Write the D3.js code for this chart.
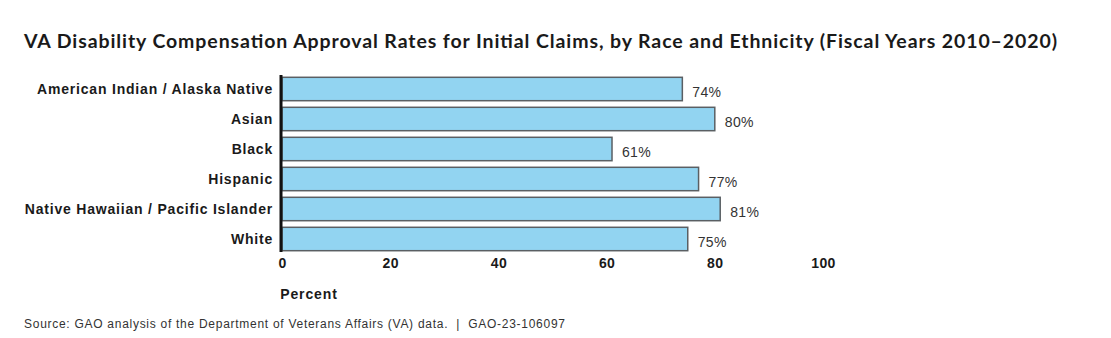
<!DOCTYPE html>
<html><head><meta charset="utf-8">
<script src="https://cdn.jsdelivr.net/npm/d3@7"></script>
<style>
html,body{margin:0;padding:0;background:#fff;}
svg{display:block;}
</style></head>
<body>
<svg id="chart" width="1111" height="338"></svg>
<script>
const categories = ["American Indian / Alaska Native","Asian","Black","Hispanic","Native Hawaiian / Pacific Islander","White"];
const values = [74,80,61,77,81,75];
const tickValues = [0,20,40,60,80,100];
const title = "VA Disability Compensation Approval Rates for Initial Claims, by Race and Ethnicity (Fiscal Years 2010–2020)";
const xTitle = "Percent";
const source = "Source: GAO analysis of the Department of Veterans Affairs (VA) data.  |  GAO-23-106097";

const svg = d3.select("#chart");
const x = d3.scaleLinear().domain([0,100]).range([282,823]);
const y = d3.scaleBand().domain(categories).range([74,254]).paddingInner(0.22).paddingOuter(0.11);
const sans = "'Liberation Sans', Arial, sans-serif";

svg.append("text").attr("x",24).attr("y",48)
  .attr("font-family","Lato, 'Open Sans', sans-serif").attr("font-weight",700)
  .attr("font-size",19.5).attr("fill","#1a1a1a")
  .attr("textLength",1033).attr("lengthAdjust","spacing").text(title);

svg.selectAll("rect.bar").data(values).join("rect").attr("class","bar")
  .attr("x",x(0)).attr("y",(d,i)=>y(categories[i]))
  .attr("width",d=>x(d)-x(0)).attr("height",y.bandwidth())
  .attr("fill","#92d4f1").attr("stroke","#5a5f63").attr("stroke-width",1.5);

svg.selectAll("text.val").data(values).join("text").attr("class","val")
  .attr("x",d=>x(d)+10).attr("y",(d,i)=>y(categories[i])+y.bandwidth()/2+7.5)
  .attr("font-family",sans).attr("font-size",14).attr("letter-spacing",0.3)
  .attr("fill","#333").text(d=>d+"%");

// y axis
const yAxis = d3.axisLeft(y).tickSize(0).tickPadding(9);
const gy = svg.append("g").attr("transform",`translate(${x(0)},0)`).call(yAxis);
gy.select(".domain").remove();
gy.selectAll("text").attr("font-family",sans).attr("dy","0.36em")
  .attr("font-weight",700).attr("font-size",14).attr("letter-spacing",0.8).attr("fill","#1a1a1a");
svg.append("line").attr("x1",x(0)-1).attr("x2",x(0)-1).attr("y1",75).attr("y2",252)
  .attr("stroke","#111").attr("stroke-width",3);

// x axis
const xAxis = d3.axisBottom(x).tickValues(tickValues).tickSize(0).tickPadding(0);
const gx = svg.append("g").attr("transform","translate(0,258)").call(xAxis);
gx.select(".domain").remove();
gx.selectAll("text").attr("font-family",sans)
  .attr("font-weight",700).attr("font-size",14).attr("letter-spacing",0.4).attr("fill","#1a1a1a");

svg.append("text").attr("x",309).attr("y",299).attr("text-anchor","middle")
  .attr("font-family",sans).attr("font-weight",700)
  .attr("font-size",14).attr("letter-spacing",0.9).attr("fill","#1a1a1a").text(xTitle);

svg.append("text").attr("x",24).attr("y",328)
  .attr("font-family",sans)
  .attr("font-size",12).attr("fill","#333").attr("xml:space","preserve")
  .attr("textLength",541).attr("lengthAdjust","spacing")
  .style("white-space","pre").text(source);
</script>
</body></html>
